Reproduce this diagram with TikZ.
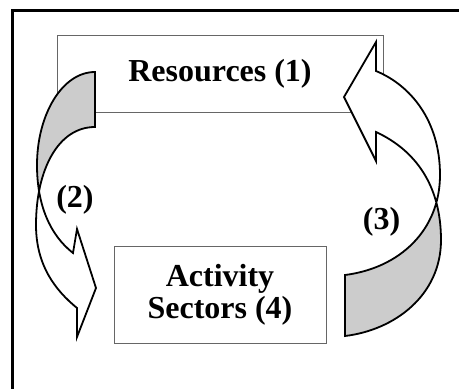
\documentclass[tikz,border=0pt]{standalone}
\usepackage{fontspec}
\setmainfont{Liberation Serif}
\tikzset{
  box/.style={draw=black!60, line width=1pt, fill=white, inner sep=0pt,
    font=\bfseries\fontsize{32}{32}\selectfont},
  lbl/.style={inner sep=0pt, font=\bfseries\fontsize{32}{32}\selectfont},
  arrowline/.style={draw=black, line width=1.8pt, line join=miter},
  backface/.style={fill=black!20},
  frontface/.style={fill=white},
  leftshape/.style={insert path={(95,72) .. controls (62,72) and (37,115) .. (37,165)
      .. controls (37,205) and (50,235) .. (73,253) -- (77,229) -- (96,288) -- (77,337)
      -- (77,308) .. controls (55,290) and (36,265) .. (36,225)
      .. controls (36,170) and (58,127) .. (95,127) -- cycle}},
  rightshape/.style={insert path={(345,336) .. controls (395,330) and (441,295) .. (441,240)
      .. controls (441,185) and (415,150) .. (376,132) -- (376,161) -- (344,97) -- (376,42)
      -- (376,71) .. controls (410,85) and (440,120) .. (440,175)
      .. controls (440,230) and (400,268) .. (345,275) -- cycle}}
}
\begin{document}
\begin{tikzpicture}[x=1pt,y=-1pt]
\useasboundingbox (0,0) rectangle (459,389);
\fill[white] (0,0) rectangle (459,389);
\draw[line width=3pt] (459,10) -- (12.5,10) -- (12.5,389);

\node[box, minimum width=326pt, minimum height=77pt] (res) at (220,73.5) {Resources (1)};
\node[box, minimum width=212pt, minimum height=97pt, align=center] (act) at (220,294.5) {Activity\\Sectors (4)};

% left curved arrow (2)
\begin{scope}
  \clip (0,0) rectangle (459,192);
  \path[backface, leftshape];
\end{scope}
\begin{scope}
  \clip (0,192) rectangle (459,389);
  \path[frontface, leftshape];
\end{scope}
\path[arrowline, leftshape];

% right curved arrow (3)
\begin{scope}
  \clip (0,0) rectangle (459,204);
  \path[frontface, rightshape];
\end{scope}
\begin{scope}
  \clip (0,204) rectangle (459,389);
  \path[backface, rightshape];
\end{scope}
\path[arrowline, rightshape];

\node[lbl, anchor=base] (l2) at (75,207) {(2)};
\node[lbl, anchor=base] (l3) at (381.5,229) {(3)};
\end{tikzpicture}
\end{document}
